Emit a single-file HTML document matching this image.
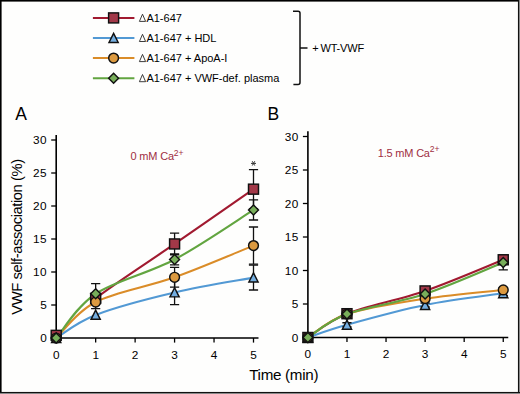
<!DOCTYPE html>
<html><head><meta charset="utf-8"><style>
html,body{margin:0;padding:0;background:#fefefd;}
body{width:520px;height:394px;overflow:hidden;}
svg{display:block;font-family:"Liberation Sans", sans-serif;}
</style></head><body>
<svg width="520" height="394" viewBox="0 0 520 394">
<defs><clipPath id="clipA"><rect x="96" y="0" width="200" height="394"/></clipPath></defs>
<rect x="0" y="0" width="520" height="394" fill="#fefefd"/>
<path d="M92.9,17.90 H134.4" stroke="#a11a30" stroke-width="2"/>
<rect x="108.60" y="12.90" width="10.00" height="10.00" fill="#a23848" stroke="#111" stroke-width="1.45"/>
<path d="M139.4,21.40 L142.5,14.20 L145.6,21.40 Z" fill="none" stroke="#333" stroke-width="0.95" stroke-linejoin="miter"/>
<text x="146.4" y="21.80" font-size="11">A1-647</text>
<path d="M92.9,38.00 H134.4" stroke="#5299d4" stroke-width="2"/>
<path d="M113.60,33.30 L118.20,42.40 L109.00,42.40 Z" fill="#74aee0" stroke="#111" stroke-width="1.45" stroke-linejoin="miter"/>
<path d="M139.4,41.50 L142.5,34.30 L145.6,41.50 Z" fill="none" stroke="#333" stroke-width="0.95" stroke-linejoin="miter"/>
<text x="146.4" y="41.90" font-size="11">A1-647 + HDL</text>
<path d="M92.9,58.10 H134.4" stroke="#da8c28" stroke-width="2"/>
<circle cx="113.60" cy="58.10" r="4.9" fill="#dc9a40" stroke="#111" stroke-width="1.45"/>
<path d="M139.4,61.60 L142.5,54.40 L145.6,61.60 Z" fill="none" stroke="#333" stroke-width="0.95" stroke-linejoin="miter"/>
<text x="146.4" y="62.00" font-size="11">A1-647 + ApoA-I</text>
<path d="M92.9,78.20 H134.4" stroke="#62a540" stroke-width="2"/>
<path d="M113.60,73.25 L118.55,78.20 L113.60,83.15 L108.65,78.20 Z" fill="#78ae5a" stroke="#111" stroke-width="1.45"/>
<path d="M139.4,81.70 L142.5,74.50 L145.6,81.70 Z" fill="none" stroke="#333" stroke-width="0.95" stroke-linejoin="miter"/>
<text x="146.4" y="82.10" font-size="11">A1-647 + VWF-def. plasma</text>
<path d="M293,11.2 H298 Q300,11.2 300,13.2 V82.5 Q300,84.5 298,84.5 H293.4 M300,47.9 H307.5" stroke="#111" stroke-width="1.5" fill="none"/>
<text x="312.3" y="51.9" font-size="11" letter-spacing="-0.2">+&#8201;WT-VWF</text>
<text x="15.3" y="119.6" font-size="17.5">A</text>
<text x="267.6" y="120.2" font-size="17.5">B</text>
<path d="M56.20,135.00 V338.00 H258.50" stroke="#000" stroke-width="1.6" fill="none"/>
<text x="47.20" y="342.20" text-anchor="end" font-size="11.8" letter-spacing="0.5">0</text>
<path d="M51.20,305.00 H56.20" stroke="#000" stroke-width="1.3"/>
<text x="47.20" y="309.20" text-anchor="end" font-size="11.8" letter-spacing="0.5">5</text>
<path d="M51.20,272.00 H56.20" stroke="#000" stroke-width="1.3"/>
<text x="47.20" y="276.20" text-anchor="end" font-size="11.8" letter-spacing="0.5">10</text>
<path d="M51.20,239.00 H56.20" stroke="#000" stroke-width="1.3"/>
<text x="47.20" y="243.20" text-anchor="end" font-size="11.8" letter-spacing="0.5">15</text>
<path d="M51.20,206.00 H56.20" stroke="#000" stroke-width="1.3"/>
<text x="47.20" y="210.20" text-anchor="end" font-size="11.8" letter-spacing="0.5">20</text>
<path d="M51.20,173.00 H56.20" stroke="#000" stroke-width="1.3"/>
<text x="47.20" y="177.20" text-anchor="end" font-size="11.8" letter-spacing="0.5">25</text>
<path d="M51.20,140.00 H56.20" stroke="#000" stroke-width="1.3"/>
<text x="47.20" y="144.20" text-anchor="end" font-size="11.8" letter-spacing="0.5">30</text>
<path d="M56.20,338.00 V342.60" stroke="#000" stroke-width="1.3"/>
<text x="56.20" y="358.60" text-anchor="middle" font-size="11.8">0</text>
<path d="M95.66,338.00 V342.60" stroke="#000" stroke-width="1.3"/>
<text x="95.66" y="358.60" text-anchor="middle" font-size="11.8">1</text>
<path d="M135.12,338.00 V342.60" stroke="#000" stroke-width="1.3"/>
<text x="135.12" y="358.60" text-anchor="middle" font-size="11.8">2</text>
<path d="M174.58,338.00 V342.60" stroke="#000" stroke-width="1.3"/>
<text x="174.58" y="358.60" text-anchor="middle" font-size="11.8">3</text>
<path d="M214.04,338.00 V342.60" stroke="#000" stroke-width="1.3"/>
<text x="214.04" y="358.60" text-anchor="middle" font-size="11.8">4</text>
<path d="M253.50,338.00 V342.60" stroke="#000" stroke-width="1.3"/>
<text x="253.50" y="358.60" text-anchor="middle" font-size="11.8">5</text>
<path d="M56.20,335.36 C62.78,329.20 75.93,313.63 95.66,298.40 C115.39,283.16 148.27,262.15 174.58,243.95 C200.89,225.75 240.35,198.30 253.50,189.17" stroke="#a11a30" stroke-width="2.1" fill="none" clip-path="url(#clipA)"/>
<path d="M56.20,338.00 C62.78,334.15 75.93,322.49 95.66,314.90 C115.39,307.31 148.27,298.67 174.58,292.46 C200.89,286.25 240.35,280.09 253.50,277.61" stroke="#5299d4" stroke-width="2.1" fill="none"/>
<path d="M56.20,338.00 C62.78,332.00 75.93,312.15 95.66,302.03 C115.39,291.91 148.27,286.69 174.58,277.28 C200.89,267.88 240.35,250.88 253.50,245.60" stroke="#da8c28" stroke-width="2.1" fill="none"/>
<path d="M56.20,338.00 C62.78,330.63 75.93,306.87 95.66,293.78 C115.39,280.69 148.27,273.43 174.58,259.46 C200.89,245.49 240.35,218.21 253.50,209.96" stroke="#62a540" stroke-width="2.1" fill="none"/>

<path d="M95.66,294.44 V302.36 M91.06,294.44 H100.26 M91.06,302.36 H100.26" stroke="#111" stroke-width="1.3" fill="none"/>
<path d="M174.58,233.13 V254.77 M169.98,233.13 H179.18 M169.98,254.77 H179.18" stroke="#111" stroke-width="1.3" fill="none"/>
<path d="M253.50,169.57 V208.77 M248.90,169.57 H258.10 M248.90,208.77 H258.10" stroke="#111" stroke-width="1.3" fill="none"/>


<path d="M174.58,280.25 V304.67 M169.98,280.25 H179.18 M169.98,304.67 H179.18" stroke="#111" stroke-width="1.3" fill="none"/>
<path d="M253.50,265.20 V290.02 M248.90,265.20 H258.10 M248.90,290.02 H258.10" stroke="#111" stroke-width="1.3" fill="none"/>

<path d="M95.66,295.43 V308.63 M91.06,295.43 H100.26 M91.06,308.63 H100.26" stroke="#111" stroke-width="1.3" fill="none"/>
<path d="M174.58,267.38 V287.18 M169.98,267.38 H179.18 M169.98,287.18 H179.18" stroke="#111" stroke-width="1.3" fill="none"/>
<path d="M253.50,226.99 V264.21 M248.90,226.99 H258.10 M248.90,264.21 H258.10" stroke="#111" stroke-width="1.3" fill="none"/>

<path d="M95.66,283.68 V303.88 M91.06,283.68 H100.26 M91.06,303.88 H100.26" stroke="#111" stroke-width="1.3" fill="none"/>
<path d="M174.58,253.98 V264.94 M169.98,253.98 H179.18 M169.98,264.94 H179.18" stroke="#111" stroke-width="1.3" fill="none"/>
<path d="M253.50,199.93 V219.99 M248.90,199.93 H258.10 M248.90,219.99 H258.10" stroke="#111" stroke-width="1.3" fill="none"/>
<rect x="51.20" y="330.36" width="10.00" height="10.00" fill="#a23848" stroke="#111" stroke-width="1.45"/>
<rect x="90.66" y="293.40" width="10.00" height="10.00" fill="#a23848" stroke="#111" stroke-width="1.45"/>
<rect x="169.58" y="238.95" width="10.00" height="10.00" fill="#a23848" stroke="#111" stroke-width="1.45"/>
<rect x="248.50" y="184.17" width="10.00" height="10.00" fill="#a23848" stroke="#111" stroke-width="1.45"/>
<path d="M56.20,333.30 L60.80,342.40 L51.60,342.40 Z" fill="#74aee0" stroke="#111" stroke-width="1.45" stroke-linejoin="miter"/>
<path d="M95.66,310.20 L100.26,319.30 L91.06,319.30 Z" fill="#74aee0" stroke="#111" stroke-width="1.45" stroke-linejoin="miter"/>
<path d="M174.58,287.76 L179.18,296.86 L169.98,296.86 Z" fill="#74aee0" stroke="#111" stroke-width="1.45" stroke-linejoin="miter"/>
<path d="M253.50,272.91 L258.10,282.01 L248.90,282.01 Z" fill="#74aee0" stroke="#111" stroke-width="1.45" stroke-linejoin="miter"/>
<circle cx="56.20" cy="338.00" r="4.9" fill="#dc9a40" stroke="#111" stroke-width="1.45"/>
<circle cx="95.66" cy="302.03" r="4.9" fill="#dc9a40" stroke="#111" stroke-width="1.45"/>
<circle cx="174.58" cy="277.28" r="4.9" fill="#dc9a40" stroke="#111" stroke-width="1.45"/>
<circle cx="253.50" cy="245.60" r="4.9" fill="#dc9a40" stroke="#111" stroke-width="1.45"/>
<path d="M56.20,333.05 L61.15,338.00 L56.20,342.95 L51.25,338.00 Z" fill="#78ae5a" stroke="#111" stroke-width="1.45"/>
<path d="M95.66,288.83 L100.61,293.78 L95.66,298.73 L90.71,293.78 Z" fill="#78ae5a" stroke="#111" stroke-width="1.45"/>
<path d="M174.58,254.51 L179.53,259.46 L174.58,264.41 L169.63,259.46 Z" fill="#78ae5a" stroke="#111" stroke-width="1.45"/>
<path d="M253.50,205.01 L258.45,209.96 L253.50,214.91 L248.55,209.96 Z" fill="#78ae5a" stroke="#111" stroke-width="1.45"/>
<path d="M307.90,131.30 V337.50 H508.25" stroke="#000" stroke-width="1.6" fill="none"/>
<text x="298.90" y="341.70" text-anchor="end" font-size="11.8" letter-spacing="0.5">0</text>
<path d="M302.90,304.00 H307.90" stroke="#000" stroke-width="1.3"/>
<text x="298.90" y="308.20" text-anchor="end" font-size="11.8" letter-spacing="0.5">5</text>
<path d="M302.90,270.50 H307.90" stroke="#000" stroke-width="1.3"/>
<text x="298.90" y="274.70" text-anchor="end" font-size="11.8" letter-spacing="0.5">10</text>
<path d="M302.90,237.00 H307.90" stroke="#000" stroke-width="1.3"/>
<text x="298.90" y="241.20" text-anchor="end" font-size="11.8" letter-spacing="0.5">15</text>
<path d="M302.90,203.50 H307.90" stroke="#000" stroke-width="1.3"/>
<text x="298.90" y="207.70" text-anchor="end" font-size="11.8" letter-spacing="0.5">20</text>
<path d="M302.90,170.00 H307.90" stroke="#000" stroke-width="1.3"/>
<text x="298.90" y="174.20" text-anchor="end" font-size="11.8" letter-spacing="0.5">25</text>
<path d="M302.90,136.50 H307.90" stroke="#000" stroke-width="1.3"/>
<text x="298.90" y="140.70" text-anchor="end" font-size="11.8" letter-spacing="0.5">30</text>
<path d="M307.90,337.50 V342.10" stroke="#000" stroke-width="1.3"/>
<text x="307.90" y="358.10" text-anchor="middle" font-size="11.8">0</text>
<path d="M346.97,337.50 V342.10" stroke="#000" stroke-width="1.3"/>
<text x="346.97" y="358.10" text-anchor="middle" font-size="11.8">1</text>
<path d="M386.04,337.50 V342.10" stroke="#000" stroke-width="1.3"/>
<text x="386.04" y="358.10" text-anchor="middle" font-size="11.8">2</text>
<path d="M425.11,337.50 V342.10" stroke="#000" stroke-width="1.3"/>
<text x="425.11" y="358.10" text-anchor="middle" font-size="11.8">3</text>
<path d="M464.18,337.50 V342.10" stroke="#000" stroke-width="1.3"/>
<text x="464.18" y="358.10" text-anchor="middle" font-size="11.8">4</text>
<path d="M503.25,337.50 V342.10" stroke="#000" stroke-width="1.3"/>
<text x="503.25" y="358.10" text-anchor="middle" font-size="11.8">5</text>
<path d="M307.90,337.50 C314.41,333.54 327.43,321.48 346.97,313.71 C366.50,305.95 399.06,299.92 425.11,290.94 C451.16,281.95 490.23,264.97 503.25,259.78" stroke="#a11a30" stroke-width="2.1" fill="none"/>
<path d="M307.90,337.50 C314.41,335.38 327.43,330.19 346.97,324.77 C366.50,319.35 399.06,310.25 425.11,305.00 C451.16,299.76 490.23,295.23 503.25,293.28" stroke="#5299d4" stroke-width="2.1" fill="none"/>
<path d="M307.90,337.50 C314.41,333.59 327.43,320.53 346.97,314.05 C366.50,307.57 399.06,302.66 425.11,298.64 C451.16,294.62 490.23,291.38 503.25,289.93" stroke="#da8c28" stroke-width="2.1" fill="none"/>
<path d="M307.90,337.50 C314.41,333.59 327.43,321.31 346.97,314.05 C366.50,306.79 399.06,302.55 425.11,293.95 C451.16,285.35 490.23,267.71 503.25,262.46" stroke="#62a540" stroke-width="2.1" fill="none"/>

<path d="M346.97,311.70 V315.72 M342.37,311.70 H351.57 M342.37,315.72 H351.57" stroke="#111" stroke-width="1.3" fill="none"/>
<path d="M425.11,288.93 V292.94 M420.51,288.93 H429.71 M420.51,292.94 H429.71" stroke="#111" stroke-width="1.3" fill="none"/>
<path d="M503.25,257.10 V262.46 M498.65,257.10 H507.85 M498.65,262.46 H507.85" stroke="#111" stroke-width="1.3" fill="none"/>

<path d="M346.97,322.76 V326.78 M342.37,322.76 H351.57 M342.37,326.78 H351.57" stroke="#111" stroke-width="1.3" fill="none"/>
<path d="M425.11,303.00 V307.01 M420.51,303.00 H429.71 M420.51,307.01 H429.71" stroke="#111" stroke-width="1.3" fill="none"/>
<path d="M503.25,291.27 V295.29 M498.65,291.27 H507.85 M498.65,295.29 H507.85" stroke="#111" stroke-width="1.3" fill="none"/>

<path d="M346.97,312.04 V316.06 M342.37,312.04 H351.57 M342.37,316.06 H351.57" stroke="#111" stroke-width="1.3" fill="none"/>
<path d="M425.11,296.63 V300.65 M420.51,296.63 H429.71 M420.51,300.65 H429.71" stroke="#111" stroke-width="1.3" fill="none"/>
<path d="M503.25,287.92 V291.94 M498.65,287.92 H507.85 M498.65,291.94 H507.85" stroke="#111" stroke-width="1.3" fill="none"/>

<path d="M346.97,312.04 V316.06 M342.37,312.04 H351.57 M342.37,316.06 H351.57" stroke="#111" stroke-width="1.3" fill="none"/>
<path d="M425.11,291.94 V295.96 M420.51,291.94 H429.71 M420.51,295.96 H429.71" stroke="#111" stroke-width="1.3" fill="none"/>
<path d="M503.25,255.09 V269.83 M498.65,255.09 H507.85 M498.65,269.83 H507.85" stroke="#111" stroke-width="1.3" fill="none"/>
<rect x="302.90" y="332.50" width="10.00" height="10.00" fill="#a23848" stroke="#111" stroke-width="1.45"/>
<rect x="341.97" y="308.71" width="10.00" height="10.00" fill="#a23848" stroke="#111" stroke-width="1.45"/>
<rect x="420.11" y="285.94" width="10.00" height="10.00" fill="#a23848" stroke="#111" stroke-width="1.45"/>
<rect x="498.25" y="254.78" width="10.00" height="10.00" fill="#a23848" stroke="#111" stroke-width="1.45"/>
<path d="M307.90,332.80 L312.50,341.90 L303.30,341.90 Z" fill="#74aee0" stroke="#111" stroke-width="1.45" stroke-linejoin="miter"/>
<path d="M346.97,320.07 L351.57,329.17 L342.37,329.17 Z" fill="#74aee0" stroke="#111" stroke-width="1.45" stroke-linejoin="miter"/>
<path d="M425.11,300.31 L429.71,309.40 L420.51,309.40 Z" fill="#74aee0" stroke="#111" stroke-width="1.45" stroke-linejoin="miter"/>
<path d="M503.25,288.58 L507.85,297.68 L498.65,297.68 Z" fill="#74aee0" stroke="#111" stroke-width="1.45" stroke-linejoin="miter"/>
<circle cx="307.90" cy="337.50" r="4.9" fill="#dc9a40" stroke="#111" stroke-width="1.45"/>
<circle cx="346.97" cy="314.05" r="4.9" fill="#dc9a40" stroke="#111" stroke-width="1.45"/>
<circle cx="425.11" cy="298.64" r="4.9" fill="#dc9a40" stroke="#111" stroke-width="1.45"/>
<circle cx="503.25" cy="289.93" r="4.9" fill="#dc9a40" stroke="#111" stroke-width="1.45"/>
<path d="M307.90,332.55 L312.85,337.50 L307.90,342.45 L302.95,337.50 Z" fill="#78ae5a" stroke="#111" stroke-width="1.45"/>
<path d="M346.97,309.10 L351.92,314.05 L346.97,319.00 L342.02,314.05 Z" fill="#78ae5a" stroke="#111" stroke-width="1.45"/>
<path d="M425.11,289.00 L430.06,293.95 L425.11,298.90 L420.16,293.95 Z" fill="#78ae5a" stroke="#111" stroke-width="1.45"/>
<path d="M503.25,257.51 L508.20,262.46 L503.25,267.41 L498.30,262.46 Z" fill="#78ae5a" stroke="#111" stroke-width="1.45"/>
<text x="130.6" y="160.4" font-size="11" fill="#9e2e42" letter-spacing="-0.2">0 mM Ca<tspan font-size="8.6" dy="-4.6" letter-spacing="0">2+</tspan></text>
<text x="377.8" y="156.5" font-size="11" fill="#9e2e42" letter-spacing="-0.2">1.5 mM Ca<tspan font-size="8.6" dy="-4.6" letter-spacing="0">2+</tspan></text>
<path d="M251,163.4 H256 M252.25,161.23 L254.75,165.57 M254.75,161.23 L252.25,165.57" stroke="#333" stroke-width="1"/>
<text transform="translate(22.4,314.8) rotate(-90)" font-size="14.8" letter-spacing="-0.44">VWF self-association (%)</text>
<text x="249.2" y="380.4" font-size="15.2" letter-spacing="-0.3">Time (min)</text>
<!-- border -->
<rect x="0" y="0" width="520" height="1" fill="#000"/>
<rect x="0" y="1" width="520" height="1" fill="#000" opacity="0.6"/>
<rect x="0" y="0" width="1" height="394" fill="#000"/>
<rect x="1" y="0" width="1" height="394" fill="#000" opacity="0.6"/>
<rect x="517" y="0" width="1" height="394" fill="#000" opacity="0.06"/>
<rect x="0" y="391" width="520" height="1" fill="#000" opacity="0.06"/>
<rect x="518" y="0" width="1" height="394" fill="#111"/>
<rect x="519" y="0" width="1" height="394" fill="#888"/>
<rect x="0" y="392" width="520" height="1" fill="#111"/>
<rect x="0" y="393" width="520" height="1" fill="#888"/>
</svg>
</body></html>
